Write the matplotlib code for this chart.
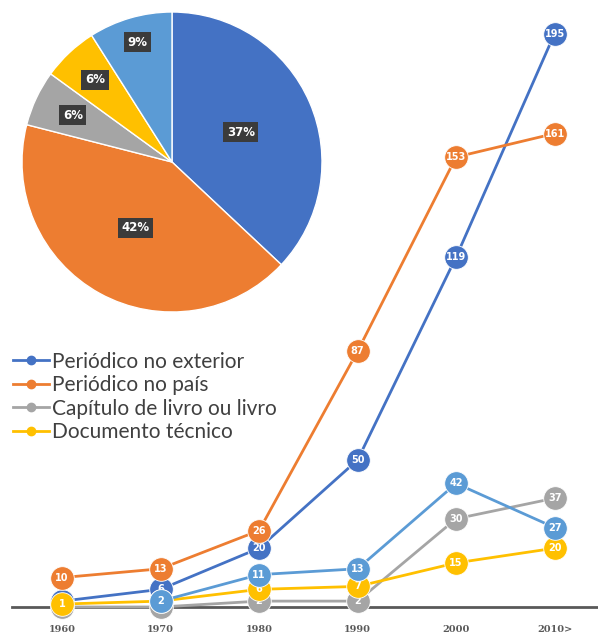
import numpy as np
import matplotlib.pyplot as plt
from matplotlib.lines import Line2D

# Publication counts per decade
decades = ["1960", "1970", "1980", "1990", "2000", "2010>"]
exterior = [2, 6, 20, 50, 119, 195]
pais = [10, 13, 26, 87, 153, 161]
capitulo = [0, 0, 2, 2, 30, 37]
documento = [1, 2, 6, 7, 15, 20]
outros = [None, 2, 11, 13, 42, 27]

# Share of each publication type (%)
pie_shares = [37, 42, 6, 6, 9]

series_names = ["Periódico no exterior", "Periódico no país",
                "Capítulo de livro ou livro", "Documento técnico"]

c_blue = "#4472C4"
c_orange = "#ED7D31"
c_gray = "#A5A5A5"
c_yellow = "#FFC000"
c_light = "#5B9BD5"

W, H = 598, 634
fig = plt.figure(figsize=(W / 100, H / 100), dpi=100)
fig.patch.set_facecolor("white")

# ---- line chart (full width, bottom baseline) ----
x0_px, base_px, top_px = 12, 607, 10
ax = fig.add_axes([x0_px / W, (H - base_px) / H, (W - x0_px) / W, (base_px - top_px) / H])
ax.set_xlim(-0.508, 5.44)
ax.set_ylim(0, 203)
ax.patch.set_alpha(0)
for s in ["top", "right", "left"]:
    ax.spines[s].set_visible(False)
ax.spines["bottom"].set_color("#595959")
ax.spines["bottom"].set_linewidth(2)
ax.set_yticks([])
x = np.arange(len(decades))
ax.set_xticks(x)
ax.set_xticklabels(decades, fontsize=7, color="#595959", family="DejaVu Serif",
                   fontweight="bold")
ax.tick_params(axis="x", length=0, pad=13)

order = [(exterior, c_blue), (pais, c_orange), (capitulo, c_gray),
         (documento, c_yellow), (outros, c_light)]
for z, (vals, col) in enumerate(order):
    y = np.array([np.nan if v is None else v for v in vals], dtype=float)
    ax.plot(x, y, color=col, lw=2, marker="o", markersize=17,
            markerfacecolor=col, markeredgecolor="white", markeredgewidth=0.6,
            zorder=3 + z * 2, clip_on=False)
    for xi, v in zip(x, vals):
        if v is None:
            continue
        ax.text(xi, v, str(v), ha="center", va="center", color="white",
                fontsize=7, fontweight="bold", zorder=4 + z * 2)

handles = [Line2D([], [], color=c, lw=2, marker="o", markersize=6)
           for c in [c_blue, c_orange, c_gray, c_yellow]]
leg = fig.legend(handles, series_names, loc="upper left",
                 bbox_to_anchor=(0.0, (H - 339) / H), frameon=False,
                 prop={"family": "Lato", "size": 15}, handlelength=1.75,
                 handletextpad=0.15, labelspacing=0.17, borderaxespad=0.2)
for t in leg.get_texts():
    t.set_color("#404040")

# ---- pie chart (upper left) ----
cx, cy, r = 172, 162, 150
pax = fig.add_axes([(cx - r) / W, (H - cy - r) / H, 2 * r / W, 2 * r / H])
wedges, _ = pax.pie(pie_shares, colors=[c_blue, c_orange, c_gray, c_yellow, c_light],
                    startangle=90, counterclock=False,
                    wedgeprops=dict(edgecolor="white", linewidth=1))
pax.set_aspect("equal")
pax.set_xlim(-1, 1)
pax.set_ylim(-1, 1)
pax.axis("off")

label_dist = [0.5, 0.5, 0.73, 0.75, 0.83]
for w, share, d in zip(wedges, pie_shares, label_dist):
    ang = np.deg2rad((w.theta1 + w.theta2) / 2)
    pax.text(d * np.cos(ang), d * np.sin(ang), f"{share}%", ha="center", va="center",
             color="white", fontsize=8.5, fontweight="bold",
             bbox=dict(boxstyle="square,pad=0.3", facecolor="#3b3b3b", edgecolor="none"))

fig.savefig("out.png", dpi=100)
